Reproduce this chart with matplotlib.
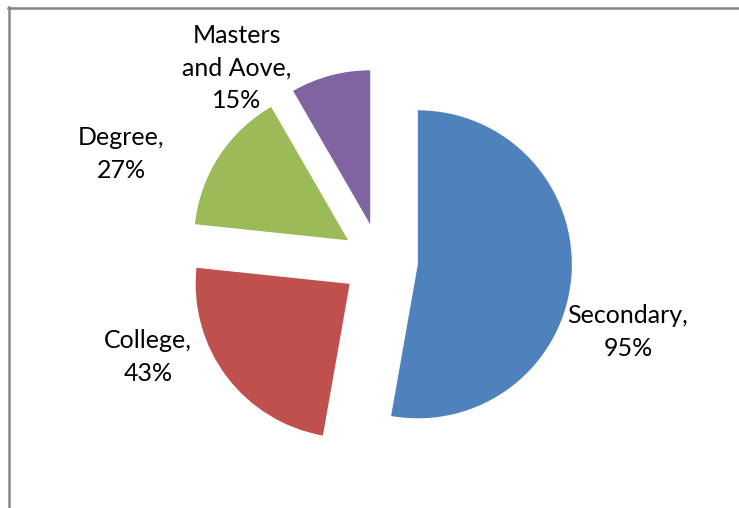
" Education level pie chart with exploded slices "

import matplotlib.pyplot as plt
from matplotlib.lines import Line2D

# data
categories = ["Secondary", "College", "Degree", "Masters\nand Aove"]
values = [95, 43, 27, 15]
colors = ["#4F81BD", "#C0504D", "#9BBB59", "#8064A2"]

W, H = 739, 508

fig = plt.figure(figsize=(W / 100, H / 100), dpi=100)
ax = fig.add_axes([0, 0, 1, 1])

center = (380, H - 261)
radius = 154
# explode is an absolute offset in data units (pixels here)
wedges, _ = ax.pie(
    values,
    colors=colors,
    startangle=90,
    counterclock=False,
    explode=[38] * len(values),
    center=center,
    radius=radius,
    frame=True,
    wedgeprops={"linewidth": 0},
)
ax.set_xlim(0, W)
ax.set_ylim(0, H)
ax.set_aspect("equal")
ax.axis("off")

# data labels placed beside each slice
label_pos = [(628, 332), (148, 357), (121, 154), (237, 68)]
for cat, val, (x, y) in zip(categories, values, label_pos):
    ax.text(
        x, H - y, f"{cat},\n{val}%",
        ha="center", va="center", fontsize=18, family="Lato",
        linespacing=1.52, color="black",
    )

# chart area border (top and left edges)
fig.add_artist(Line2D([8 / W, 1], [1 - 7.5 / H, 1 - 7.5 / H],
                      transform=fig.transFigure, color="#878787", linewidth=1.8))
fig.add_artist(Line2D([8.5 / W, 8.5 / W], [0, 1 - 7 / H],
                      transform=fig.transFigure, color="#878787", linewidth=1.8))

fig.savefig("out.png", dpi=100)
